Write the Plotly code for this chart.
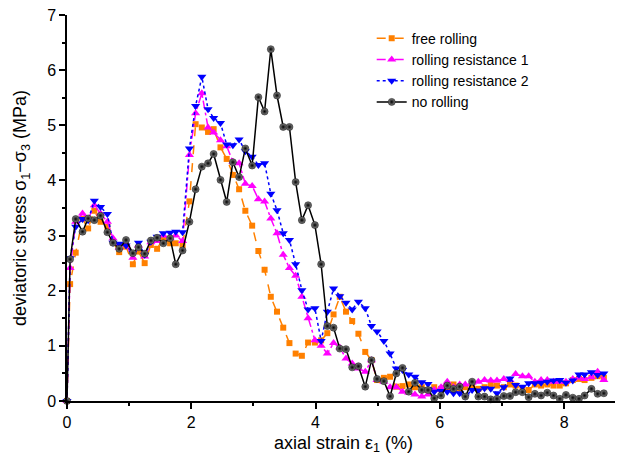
import plotly.graph_objects as go

strain = [0, 0.05, 0.14, 0.25, 0.34, 0.44, 0.54, 0.65, 0.74, 0.84, 0.95,
          1.06, 1.15, 1.25, 1.35, 1.45, 1.55, 1.66, 1.75, 1.86, 1.97,
          2.07, 2.17, 2.27, 2.36, 2.47, 2.57, 2.67, 2.77, 2.87, 2.98,
          3.08, 3.18, 3.28, 3.38, 3.48, 3.58, 3.68, 3.78, 3.88, 3.99,
          4.09, 4.19, 4.29, 4.39, 4.49, 4.59, 4.69, 4.80, 4.90, 4.99,
          5.10, 5.20, 5.30, 5.40, 5.50, 5.60, 5.71, 5.81, 5.91,
          6.02, 6.12, 6.22, 6.32, 6.41, 6.52, 6.62, 6.72, 6.82, 6.92,
          7.03, 7.13, 7.22, 7.33, 7.43, 7.53, 7.63, 7.73, 7.83, 7.93,
          8.03, 8.14, 8.24, 8.33, 8.44, 8.54, 8.64]

free_rolling = [0, 2.12, 2.69, 3.30, 3.13, 3.45, 3.25, 3.16, 2.88, 2.70, 2.80,
                2.48, 2.71, 2.50, 2.83, 2.76, 2.95, 2.86, 2.86, 2.83, 3.62,
                5.02, 4.96, 4.88, 4.93, 4.60, 4.39, 4.10, 3.84, 3.45, 3.18,
                2.72, 2.38, 1.89, 1.62, 1.33, 1.05, 0.86, 0.82, 1.06, 1.06,
                1.10, 1.23, 1.57, 1.89, 1.62, 1.45, 1.22, 0.89, 0.74, 0.38,
                0.42, 0.44, 0.26, 0.27, 0.30, 0.25, 0.25, 0.20, 0.25,
                0.22, 0.25, 0.30, 0.22, 0.25, 0.28, 0.22, 0.25, 0.30, 0.28,
                0.25, 0.30, 0.28, 0.22, 0.20, 0.30, 0.28, 0.30, 0.28, 0.28,
                0.32, 0.38, 0.40, 0.38, 0.42, 0.45, 0.42]

rolling_res_1 = [0, 2.41, 3.25, 3.40, 3.30, 3.55, 3.40, 3.25, 2.95, 2.78, 2.85,
                 2.60, 2.82, 2.62, 2.88, 2.90, 3.00, 2.95, 3.00, 2.90, 4.46,
                 5.22, 5.58, 4.96, 4.87, 4.73, 4.62, 4.34, 4.31, 3.94, 3.90,
                 3.66, 3.62, 3.31, 3.04, 2.65, 2.41, 2.27, 1.89, 1.50, 1.10,
                 1.00, 0.86, 1.05, 0.97, 0.77, 0.68, 0.59, 0.53, 0.74, 0.38,
                 0.35, 0.25, 0.25, 0.17, 0.15, 0.12, 0.08, 0.12, 0.20,
                 0.25, 0.35, 0.25, 0.30, 0.30, 0.33, 0.35, 0.38, 0.37, 0.37,
                 0.40, 0.38, 0.49, 0.45, 0.45, 0.35, 0.38, 0.38, 0.35, 0.35,
                 0.35, 0.40, 0.42, 0.40, 0.43, 0.53, 0.38]

rolling_res_2 = [0, 2.59, 3.16, 3.30, 3.28, 3.63, 3.52, 3.39, 2.87, 2.85, 2.82,
                 2.69, 2.87, 2.65, 2.89, 2.98, 3.04, 3.05, 3.07, 3.06, 4.58,
                 5.35, 5.88, 5.29, 5.13, 5.04, 4.65, 4.64, 4.74, 4.53, 4.43,
                 4.28, 4.31, 3.76, 3.46, 3.04, 2.92, 2.48, 2.01, 1.66, 1.68,
                 1.09, 1.62, 2.04, 1.90, 1.78, 1.66, 1.80, 1.68, 1.36, 1.26,
                 1.09, 0.86, 0.59, 0.56, 0.48, 0.44, 0.34, 0.31, 0.17,
                 0.18, 0.17, 0.14, 0.14, 0.08, 0.20, 0.19, 0.23, 0.22, 0.14,
                 0.25, 0.41, 0.29, 0.26, 0.32, 0.32, 0.33, 0.35, 0.37, 0.38,
                 0.33, 0.37, 0.48, 0.48, 0.52, 0.47, 0.50]

no_rolling = [0, 2.57, 3.30, 3.07, 3.31, 3.28, 3.36, 3.06, 2.87, 2.76, 2.92,
              2.68, 2.79, 2.67, 2.91, 2.96, 2.86, 2.95, 2.48, 2.73, 3.25,
              3.84, 4.25, 4.31, 4.48, 4.01, 3.61, 4.33, 4.06, 4.58, 4.27,
              5.51, 5.25, 6.38, 5.54, 4.97, 4.97, 3.97, 3.28, 3.55, 3.19,
              2.48, 1.36, 1.33, 0.95, 0.94, 0.61, 0.63, 0.26, 0.74, 0.40,
              0.36, 0.085, 0.50, 0.60, 0.17, 0.33, 0.20, 0.20, 0.05,
              0.10, 0.28, 0.22, 0.26, 0.08, 0.35, 0.08, 0.08, 0.03, 0.04,
              0.09, 0.09, 0.16, 0.16, 0.07, 0.13, 0.10, 0.15, 0.10, 0.04,
              0.11, 0.06, 0.04, 0.10, 0.22, 0.13, 0.14]

series = [
    ("free rolling", free_rolling, "#FF8000", "dash", "square", 6),
    ("rolling resistance 1", rolling_res_1, "#FF00FF", "dashdot", "triangle-up", 8),
    ("rolling resistance 2", rolling_res_2, "#0000FF", "dot", "triangle-down", 8),
]

fig = go.Figure()
for name, ys, col, dash, sym, sz in series:
    fig.add_trace(go.Scatter(
        x=strain, y=ys, name=name, mode="lines+markers", cliponaxis=False,
        line=dict(color=col, dash=dash, width=1.5),
        marker=dict(symbol=sym, size=sz, color=col, line=dict(width=0))))

fig.add_trace(go.Scatter(
    x=strain, y=no_rolling, name="no rolling", mode="lines+markers", cliponaxis=False,
    line=dict(color="black", width=1.5),
    marker=dict(symbol="circle", size=7, color="#8a8a8a",
                gradient=dict(type="radial", color="black"),
                line=dict(width=0.5, color="black"))))

font_family = "Liberation Sans, Arial, sans-serif"
fig.update_layout(
    width=623, height=467,
    margin=dict(l=59, r=11, t=7, b=74),
    plot_bgcolor="white", paper_bgcolor="white",
    font=dict(family=font_family, color="black", size=16),
    legend=dict(x=0.551, y=0.98, xanchor="left", yanchor="top",
                font=dict(size=14), bgcolor="rgba(0,0,0,0)",
                itemwidth=30, tracegroupgap=0),
    xaxis=dict(range=[0, 8.9], tickvals=[0, 2, 4, 6, 8], showgrid=False, zeroline=False,
               automargin=False, ticklabeloverflow="allow",
               showline=True, linecolor="black", linewidth=1.5,
               ticks="outside", ticklen=6, tickwidth=1.5, tickcolor="black",
               minor=dict(tickvals=[1, 3, 5, 7], ticks="outside", ticklen=3,
                          tickwidth=1.5, tickcolor="black"),
               title=dict(text="axial strain ε<sub>1</sub> (%)", font=dict(size=18),
                          standoff=6)),
    yaxis=dict(range=[0, 7], dtick=1, showgrid=False, zeroline=False,
               automargin=False, ticklabeloverflow="allow",
               showline=True, linecolor="black", linewidth=1.5,
               ticks="outside", ticklen=6, tickwidth=1.5, tickcolor="black",
               minor=dict(dtick=0.5, ticks="outside", ticklen=3,
                          tickwidth=1.5, tickcolor="black"),
               title=dict(text="deviatoric stress σ<sub>1</sub>−σ<sub>3</sub> (MPa)",
                          font=dict(size=18), standoff=16)),
)

fig.write_html("out.html")
